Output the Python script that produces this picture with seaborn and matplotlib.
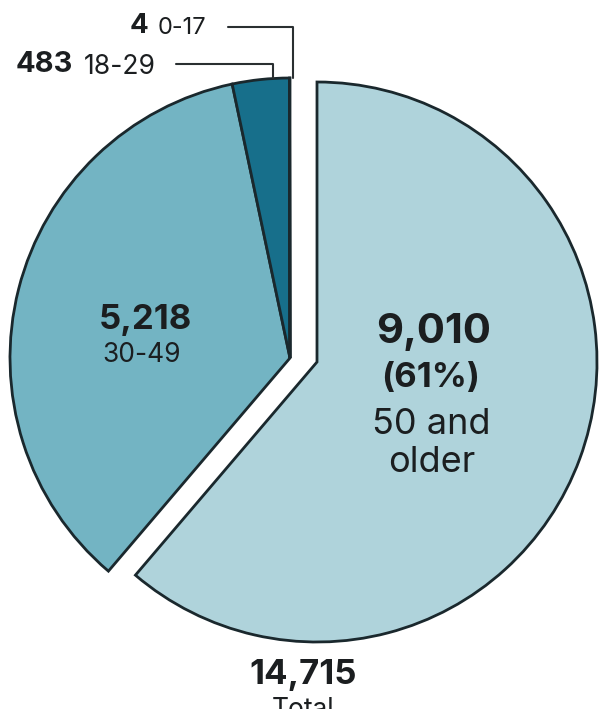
import matplotlib
matplotlib.use("Agg")
import matplotlib.pyplot as plt
import seaborn as sns

# Age groups, clockwise from 12 o'clock
groups = ["50 and older", "30-49", "18-29", "0-17"]
counts = [9010, 5218, 483, 4]
share_label = "(61%)"
total_label = "14,715"

sns.set_theme(style="white")
plt.rcParams["font.family"] = ["Inter", "DejaVu Sans"]

palette = sns.color_palette(["#afd3db", "#73b4c3", "#176f8b", "#0c4b62"])
edge = "#1a282d"
ink = "#1b1e20"

W, H = 599, 709
fig = plt.figure(figsize=(W / 100, H / 100), dpi=100)
ax = fig.add_axes([0, 0, 1, 1])

cx, cy, r = 290, H - 358, 280
wedges, _ = ax.pie(counts, colors=palette, startangle=90, counterclock=False,
                   center=(cx, cy), radius=r, frame=True,
                   wedgeprops=dict(edgecolor=edge, linewidth=2))
# pull the largest slice out toward the lower right
wedges[0].set_center((cx + 27, cy - 4))
ax.set_xlim(0, W)
ax.set_ylim(0, H)
ax.set_aspect("equal")
ax.axis("off")

def Y(y):
    return H - y

# labels inside the slices
ax.text(434, Y(332), f"{counts[0]:,}", ha="center", va="center",
        fontsize=30, fontweight="bold", color=ink)
ax.text(431, Y(378), share_label, ha="center", va="center",
        fontsize=25, fontweight="bold", color=ink)
ax.text(431, Y(425), "50 and", ha="center", va="center", fontsize=26, color=ink)
ax.text(432, Y(463), "older", ha="center", va="center", fontsize=26, color=ink)

ax.text(145, Y(320), f"{counts[1]:,}", ha="center", va="center",
        fontsize=25, fontweight="bold", color=ink)
ax.text(142, Y(355), groups[1], ha="center", va="center", fontsize=19, color=ink)

# callouts for the two thin slices
ax.text(148, Y(26), f"{counts[3]:,}", ha="right", va="center",
        fontsize=20, fontweight="bold", color=ink)
ax.text(158, Y(28), groups[3], ha="left", va="center", fontsize=17, color=ink)
ax.plot([228, 293, 293], [Y(27), Y(27), Y(78)], color="#2a2f31", lw=1.5)

ax.text(73, Y(64), f"{counts[2]:,}", ha="right", va="center",
        fontsize=21, fontweight="bold", color=ink)
ax.text(84, Y(67), groups[2], ha="left", va="center", fontsize=19, color=ink)
ax.plot([176, 273, 273], [Y(64), Y(64), Y(78)], color="#2a2f31", lw=1.5)

# total below the pie
ax.text(303, Y(675), total_label, ha="center", va="center",
        fontsize=25, fontweight="bold", color=ink)
ax.text(303, Y(697), "Total", ha="center", va="top", fontsize=19, color=ink)

fig.savefig("out.png", dpi=100)
